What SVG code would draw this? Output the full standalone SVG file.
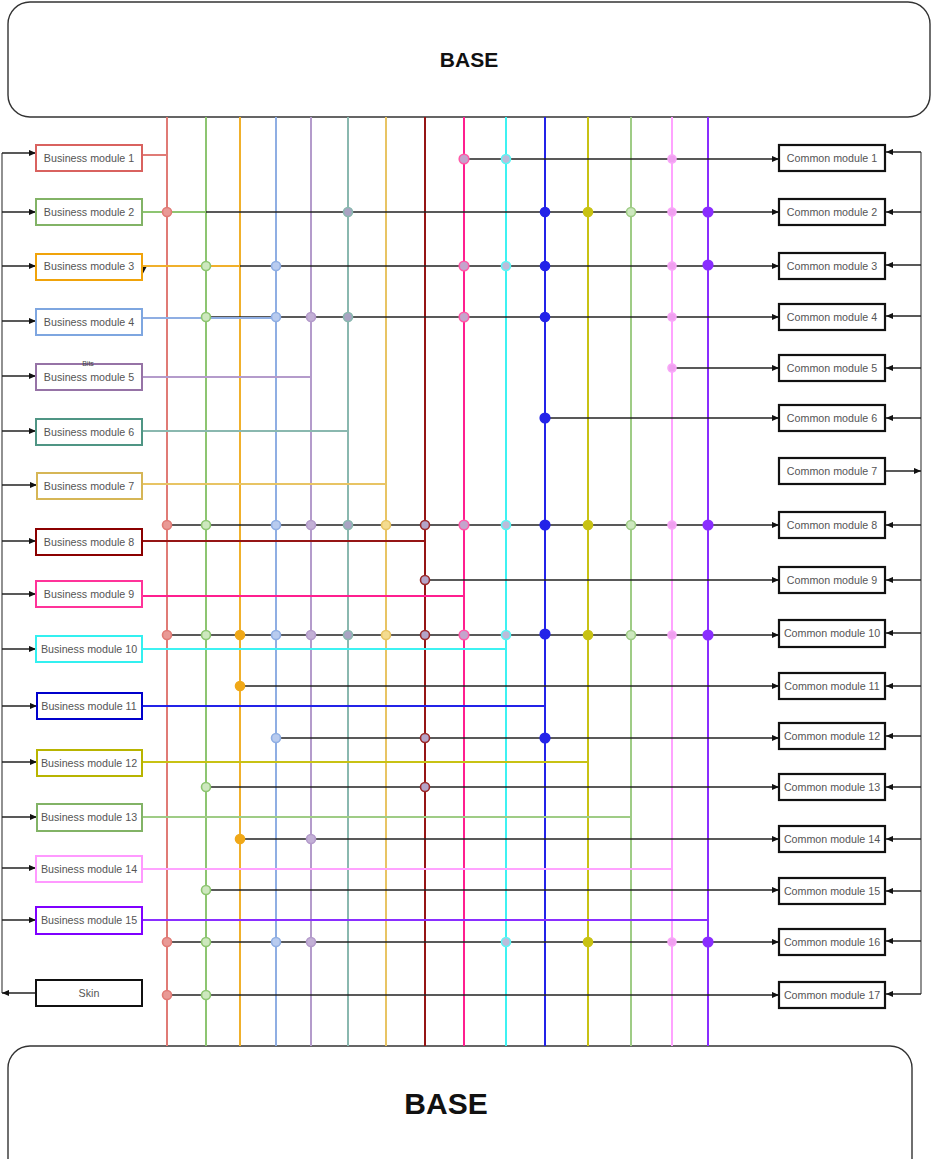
<svg xmlns="http://www.w3.org/2000/svg" width="932" height="1159" viewBox="0 0 932 1159">
<defs>
<marker id="ar" viewBox="0 0 8 8" refX="8" refY="4" markerWidth="7" markerHeight="7" orient="auto" markerUnits="userSpaceOnUse"><path d="M0,0.5 L8,4 L0,7.5 z" fill="#111"/></marker>
</defs>
<style>
text{font-family:"Liberation Sans",Arial,sans-serif}
.base{fill:#fff;stroke:#333;stroke-width:1.4}
.bt{font-weight:bold;fill:#111;text-anchor:middle}
.bm{fill:#fff;stroke-width:2}
.cm{fill:#fff;stroke:#111;stroke-width:2.2}
.lb{font-size:10.7px;fill:#555;text-anchor:middle}
.k{fill:none;stroke:#555;stroke-width:1.3}
.ka{fill:none;stroke:#222;stroke-width:1.3;marker-end:url(#ar)}
.h{fill:none;stroke-width:2}
.v{fill:none;stroke-width:2}
.c1{stroke:#E07B76}.c2{stroke:#8DC571}.c3{stroke:#F0B02C}.c4{stroke:#8FAEE3}.c5{stroke:#B49BCB}
.c6{stroke:#8AB8AF}.c7{stroke:#E8C464}.c8{stroke:#951515}.c9{stroke:#FF1F8F}.c10{stroke:#3EF2F2}
.c11{stroke:#2323E8}.c12{stroke:#C8C214}.c13{stroke:#9FCC86}.c14{stroke:#FFA3FF}.c15{stroke:#8A2EFF}
circle{stroke-width:1.6}
.d1{fill:#E99A96;stroke:#E07B76}.d2{fill:#CDE8BE;stroke:#8DC571}.d3{fill:#F0A818;stroke:#F0A818}
.d4{fill:#B8CBEF;stroke:#8FAEE3}.d5{fill:#C3B0D6;stroke:#B49BCB}.d6{fill:#A9A3C3;stroke:#8AB8AF}
.d7{fill:#F4DC90;stroke:#E8C464}.d8{fill:#B4A4C8;stroke:#9A2A2A}.d9{fill:#C4A4CC;stroke:#FF5AA8}
.d10{fill:#BCBCDA;stroke:#5EF5F5}.d11{fill:#2323E8;stroke:#2323E8}.d12{fill:#C8C214;stroke:#C8C214}
.d13{fill:#CDE8BE;stroke:#9FCC86}.d14{fill:#F0A0F0;stroke:#F8A8F8}.d15{fill:#8A2EFF;stroke:#8A2EFF}
</style>

<g id="base-top"><rect class="base" x="8" y="2" width="922" height="115" rx="22"/><text class="bt" x="469" y="67" font-size="21">BASE</text></g>
<g id="base-bottom"><rect class="base" x="8" y="1046" width="904" height="140" rx="22"/><text class="bt" x="446" y="1114" font-size="30">BASE</text></g>

<g id="verticals">
<path class="v c1" d="M167,117V1046"/><path class="v c2" d="M206,117V1046"/><path class="v c3" d="M240,117V1046"/>
<path class="v c4" d="M276,117V1046"/><path class="v c5" d="M311,117V1046"/><path class="v c6" d="M348,117V1046"/>
<path class="v c7" d="M386,117V1046"/><path class="v c8" d="M425,117V1046"/><path class="v c9" d="M464,117V1046"/>
<path class="v c10" d="M506,117V1046"/><path class="v c11" d="M545,117V1046" stroke-width="2.4"/><path class="v c12" d="M588,117V1046"/>
<path class="v c13" d="M631,117V1046"/><path class="v c14" d="M672,117V1046"/><path class="v c15" d="M708,117V1046" stroke-width="2.4"/>
</g>

<g id="connectors">
<path class="k" d="M2,153V993"/>
<path class="ka" d="M2,153H36"/><path class="ka" d="M2,212H36"/><path class="ka" d="M2,266H36"/><path class="ka" d="M2,321H36"/>
<path class="ka" d="M2,376H36"/><path class="ka" d="M2,431H36"/><path class="ka" d="M2,485H37"/><path class="ka" d="M2,541H36"/>
<path class="ka" d="M2,594H36"/><path class="ka" d="M2,649H36"/><path class="ka" d="M2,706H37"/><path class="ka" d="M2,762H37"/>
<path class="ka" d="M2,817H37"/><path class="ka" d="M2,868H36"/><path class="ka" d="M2,920H36"/>
<path class="ka" d="M36,993H2"/>
<path class="k" d="M921,152V994"/>
<path class="ka" d="M921,152H886"/><path class="ka" d="M921,212H886"/><path class="ka" d="M921,265H886"/><path class="ka" d="M921,316H886"/>
<path class="ka" d="M921,368H886"/><path class="ka" d="M921,418H886"/><path class="ka" d="M886,471H921"/><path class="ka" d="M921,525H886"/>
<path class="ka" d="M921,580H886"/><path class="ka" d="M921,633H886"/><path class="ka" d="M921,686H886"/><path class="ka" d="M921,736H886"/>
<path class="ka" d="M921,787H886"/><path class="ka" d="M921,839H886"/><path class="ka" d="M921,891H886"/><path class="ka" d="M921,941H886"/>
<path class="ka" d="M921,994H886"/>
<path class="ka" d="M464,159H779"/><path class="ka" d="M167,212H779"/><path class="ka" d="M206,266H779"/><path class="ka" d="M206,317H779"/>
<path class="ka" d="M672,368H779"/><path class="ka" d="M545,418H779"/><path class="ka" d="M167,525H779"/><path class="ka" d="M425,580H779"/>
<path class="ka" d="M167,635H779"/><path class="ka" d="M240,686H779"/><path class="ka" d="M276,738H779"/><path class="ka" d="M206,787H779"/>
<path class="ka" d="M240,839H779"/><path class="ka" d="M206,890H779"/><path class="ka" d="M167,942H779"/><path class="ka" d="M167,995H779"/>
<path class="h c1" d="M142,155H167"/><path class="h c2" d="M142,212H206"/><path class="h c3" d="M142,266H240"/><path class="h c4" d="M142,318H276"/>
<path class="h c5" d="M142,377H311"/><path class="h c6" d="M142,431H348"/><path class="h c7" d="M142,484H386"/><path class="h c8" d="M142,541H425"/>
<path class="h c9" d="M142,596H464"/><path class="h c10" d="M142,649H506"/><path class="h c11" d="M142,706H545"/><path class="h c12" d="M142,762H588"/>
<path class="h c13" d="M142,817H631"/><path class="h c14" d="M142,869H672"/><path class="h c15" d="M142,920H708"/>
<polygon points="139.5,267 146.5,267 143,273.5" fill="#111"/>
</g>

<g id="dots">
<circle class="d9" cx="464" cy="159" r="4.8"/><circle class="d10" cx="506" cy="159" r="4.5"/><circle class="d14" cx="672" cy="159" r="4"/>
<circle class="d1" cx="167" cy="212" r="4.5"/><circle class="d6" cx="348" cy="212" r="4.5"/><circle class="d11" cx="545" cy="212" r="4.5"/><circle class="d12" cx="588" cy="212" r="4.5"/><circle class="d13" cx="631" cy="212" r="4.5"/><circle class="d14" cx="672" cy="212" r="4"/><circle class="d15" cx="708" cy="212" r="4.8"/>
<circle class="d2" cx="206" cy="266" r="4.5"/><circle class="d4" cx="276" cy="266" r="4.5"/><circle class="d9" cx="464" cy="266" r="4.8"/><circle class="d10" cx="506" cy="266" r="4.5"/><circle class="d11" cx="545" cy="266" r="4.5"/><circle class="d14" cx="672" cy="266" r="4"/><circle class="d15" cx="708" cy="265" r="4.8"/>
<circle class="d2" cx="206" cy="317" r="4.5"/><circle class="d4" cx="276" cy="317" r="4.5"/><circle class="d5" cx="311" cy="317" r="4.5"/><circle class="d6" cx="348" cy="317" r="4.5"/><circle class="d9" cx="464" cy="317" r="4.8"/><circle class="d11" cx="545" cy="317" r="4.5"/><circle class="d14" cx="672" cy="317" r="4"/>
<circle class="d14" cx="672" cy="368" r="4"/>
<circle class="d11" cx="545" cy="418" r="4.8"/>
<circle class="d1" cx="167" cy="525" r="4.5"/><circle class="d2" cx="206" cy="525" r="4.5"/><circle class="d4" cx="276" cy="525" r="4.5"/><circle class="d5" cx="311" cy="525" r="4.5"/><circle class="d6" cx="348" cy="525" r="4.5"/><circle class="d7" cx="386" cy="525" r="4.5"/><circle class="d8" cx="425" cy="525" r="4.5"/><circle class="d9" cx="464" cy="525" r="4.8"/><circle class="d10" cx="506" cy="525" r="4.5"/><circle class="d11" cx="545" cy="525" r="4.8"/><circle class="d12" cx="588" cy="525" r="4.5"/><circle class="d13" cx="631" cy="525" r="4.5"/><circle class="d14" cx="672" cy="525" r="4"/><circle class="d15" cx="708" cy="525" r="4.8"/>
<circle class="d8" cx="425" cy="580" r="4.5"/>
<circle class="d1" cx="167" cy="635" r="4.5"/><circle class="d2" cx="206" cy="635" r="4.5"/><circle class="d3" cx="240" cy="635" r="4.5"/><circle class="d4" cx="276" cy="635" r="4.5"/><circle class="d5" cx="311" cy="635" r="4.5"/><circle class="d6" cx="348" cy="635" r="4.5"/><circle class="d7" cx="386" cy="635" r="4.5"/><circle class="d8" cx="425" cy="635" r="4.5"/><circle class="d9" cx="464" cy="635" r="4.8"/><circle class="d10" cx="506" cy="635" r="4.5"/><circle class="d11" cx="545" cy="634" r="4.8"/><circle class="d12" cx="588" cy="635" r="4.5"/><circle class="d13" cx="631" cy="635" r="4.5"/><circle class="d14" cx="672" cy="635" r="4"/><circle class="d15" cx="708" cy="635" r="4.8"/>
<circle class="d3" cx="240" cy="686" r="4.5"/>
<circle class="d4" cx="276" cy="738" r="4.5"/><circle class="d8" cx="425" cy="738" r="4.5"/><circle class="d11" cx="545" cy="738" r="4.8"/>
<circle class="d2" cx="206" cy="787" r="4.5"/><circle class="d8" cx="425" cy="787" r="4.5"/>
<circle class="d3" cx="240" cy="839" r="4.5"/><circle class="d5" cx="311" cy="839" r="4.5"/>
<circle class="d2" cx="206" cy="890" r="4.5"/>
<circle class="d1" cx="167" cy="942" r="4.5"/><circle class="d2" cx="206" cy="942" r="4.5"/><circle class="d4" cx="276" cy="942" r="4.5"/><circle class="d5" cx="311" cy="942" r="4.5"/><circle class="d10" cx="506" cy="942" r="4.5"/><circle class="d12" cx="588" cy="942" r="4.5"/><circle class="d14" cx="672" cy="942" r="4"/><circle class="d15" cx="708" cy="942" r="4.8"/>
<circle class="d1" cx="167" cy="995" r="4.5"/><circle class="d2" cx="206" cy="995" r="4.5"/>
</g>

<g id="bm1"><rect class="bm" x="36" y="145" width="106" height="26" stroke="#D9625F"/><text class="lb" x="89" y="162">Business module 1</text></g>
<g id="bm2"><rect class="bm" x="36" y="199" width="106" height="26" stroke="#82B366"/><text class="lb" x="89" y="216">Business module 2</text></g>
<g id="bm3"><rect class="bm" x="36" y="254" width="106" height="26" stroke="#F0A30A" stroke-width="2.4"/><text class="lb" x="89" y="270">Business module 3</text></g>
<g id="bm4"><rect class="bm" x="36" y="309" width="106" height="26" stroke="#7EA6E0"/><text class="lb" x="89" y="326">Business module 4</text></g>
<g id="bm5"><rect class="bm" x="36" y="364" width="106" height="26" stroke="#9673A6"/><text class="lb" x="89" y="381">Business module 5</text><text x="88" y="366" font-size="7" fill="#444" text-anchor="middle">Bits</text></g>
<g id="bm6"><rect class="bm" x="36" y="419" width="106" height="26" stroke="#4F9584"/><text class="lb" x="89" y="436">Business module 6</text></g>
<g id="bm7"><rect class="bm" x="37" y="473" width="105" height="26" stroke="#D6B656"/><text class="lb" x="89" y="490">Business module 7</text></g>
<g id="bm8"><rect class="bm" x="36" y="529" width="106" height="26" stroke="#8B0000" stroke-width="2.4"/><text class="lb" x="89" y="546">Business module 8</text></g>
<g id="bm9"><rect class="bm" x="36" y="581" width="106" height="26" stroke="#FF3399" stroke-width="2.4"/><text class="lb" x="89" y="598">Business module 9</text></g>
<g id="bm10"><rect class="bm" x="36" y="636" width="106" height="26" stroke="#33F0F0" stroke-width="2.4"/><text class="lb" x="89" y="653">Business module 10</text></g>
<g id="bm11"><rect class="bm" x="37" y="693" width="105" height="26" stroke="#0000CC" stroke-width="2.4"/><text class="lb" x="89" y="710">Business module 11</text></g>
<g id="bm12"><rect class="bm" x="37" y="750" width="105" height="26" stroke="#B8B400" stroke-width="2.4"/><text class="lb" x="89" y="767">Business module 12</text></g>
<g id="bm13"><rect class="bm" x="37" y="804" width="105" height="27" stroke="#82B366"/><text class="lb" x="89" y="821">Business module 13</text></g>
<g id="bm14"><rect class="bm" x="36" y="856" width="106" height="26" stroke="#FF99FF"/><text class="lb" x="89" y="873">Business module 14</text></g>
<g id="bm15"><rect class="bm" x="36" y="907" width="106" height="27" stroke="#7F00FF" stroke-width="2.4"/><text class="lb" x="89" y="924">Business module 15</text></g>
<g id="skin"><rect class="bm" x="36" y="980" width="106" height="26" stroke="#111"/><text class="lb" x="89" y="997">Skin</text></g>

<g id="cm1"><rect class="cm" x="779" y="145" width="106" height="26"/><text class="lb" x="832" y="162">Common module 1</text></g>
<g id="cm2"><rect class="cm" x="779" y="199" width="106" height="26"/><text class="lb" x="832" y="216">Common module 2</text></g>
<g id="cm3"><rect class="cm" x="779" y="253" width="106" height="26"/><text class="lb" x="832" y="270">Common module 3</text></g>
<g id="cm4"><rect class="cm" x="779" y="304" width="106" height="26"/><text class="lb" x="832" y="321">Common module 4</text></g>
<g id="cm5"><rect class="cm" x="779" y="355" width="106" height="26"/><text class="lb" x="832" y="372">Common module 5</text></g>
<g id="cm6"><rect class="cm" x="779" y="405" width="106" height="26"/><text class="lb" x="832" y="422">Common module 6</text></g>
<g id="cm7"><rect class="cm" x="779" y="458" width="106" height="26"/><text class="lb" x="832" y="475">Common module 7</text></g>
<g id="cm8"><rect class="cm" x="779" y="512" width="106" height="26"/><text class="lb" x="832" y="529">Common module 8</text></g>
<g id="cm9"><rect class="cm" x="779" y="567" width="106" height="26"/><text class="lb" x="832" y="584">Common module 9</text></g>
<g id="cm10"><rect class="cm" x="779" y="620" width="106" height="27"/><text class="lb" x="832" y="637">Common module 10</text></g>
<g id="cm11"><rect class="cm" x="779" y="673" width="106" height="26"/><text class="lb" x="832" y="690">Common module 11</text></g>
<g id="cm12"><rect class="cm" x="779" y="723" width="106" height="26"/><text class="lb" x="832" y="740">Common module 12</text></g>
<g id="cm13"><rect class="cm" x="779" y="774" width="106" height="26"/><text class="lb" x="832" y="791">Common module 13</text></g>
<g id="cm14"><rect class="cm" x="779" y="826" width="106" height="26"/><text class="lb" x="832" y="843">Common module 14</text></g>
<g id="cm15"><rect class="cm" x="779" y="878" width="106" height="26"/><text class="lb" x="832" y="895">Common module 15</text></g>
<g id="cm16"><rect class="cm" x="779" y="929" width="106" height="26"/><text class="lb" x="832" y="946">Common module 16</text></g>
<g id="cm17"><rect class="cm" x="779" y="982" width="106" height="26"/><text class="lb" x="832" y="999">Common module 17</text></g>
</svg>
